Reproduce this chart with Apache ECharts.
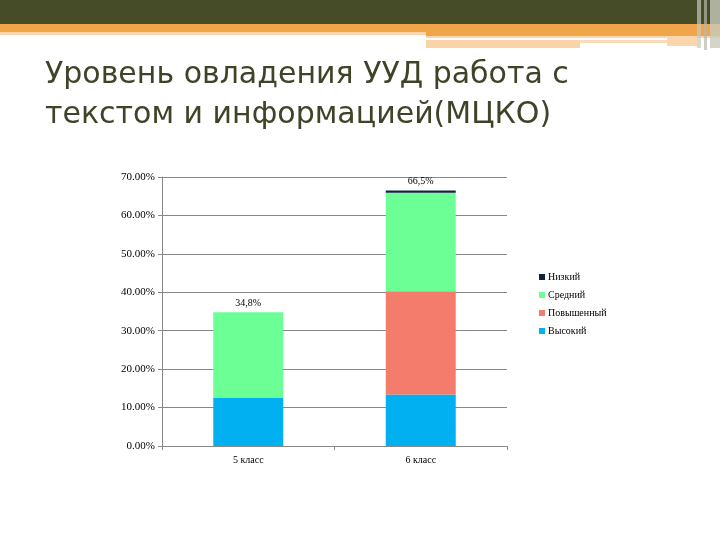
<!DOCTYPE html>
<html>
<head>
<meta charset="utf-8">
<script src="https://cdn.jsdelivr.net/npm/echarts@6/dist/echarts.min.js"></script>
<style>
  html, body { margin: 0; padding: 0; background: #fff; }
  #chart { width: 720px; height: 540px; }
</style>
</head>
<body>
<div id="chart"></div>
<script>
  var categories = ['5 класс', '6 класс'];
  var vysokiy = [12.6, 13.4];
  var povyshenny = [0, 26.9];
  var sredniy = [22.2, 25.6];
  var nizkiy = [0, 0.6];
  var totals = ['34,8%', '66,5%'];
  var yTicks = [0, 10, 20, 30, 40, 50, 60, 70];

  var serif = '"Liberation Serif", "DejaVu Serif", serif';
  var chart = echarts.init(document.getElementById('chart'));

  var option = {
    backgroundColor: '#fff',
    animation: false,
    title: {
      text: 'Уровень овладения УУД работа с\nтекстом и информацией(МЦКО)',
      left: 40,
      top: 50,
      textStyle: {
        fontFamily: '"DejaVu Sans", "Noto Sans", sans-serif',
        fontWeight: 'normal',
        fontSize: 30,
        lineHeight: 40,
        color: '#3f4428'
      }
    },
    graphic: [
      { type: 'rect', shape: { x: 0, y: 0, width: 720, height: 24 }, style: { fill: '#474c28' } },
      { type: 'rect', shape: { x: 0, y: 24, width: 720, height: 8 }, style: { fill: '#f0a54a' } },
      { type: 'rect', shape: { x: 0, y: 32, width: 426, height: 3 }, style: { fill: '#fad5ae' } },
      { type: 'rect', shape: { x: 426, y: 32, width: 294, height: 4 }, style: { fill: '#f0a54a' } },
      { type: 'rect', shape: { x: 426, y: 36, width: 294, height: 2 }, style: { fill: '#fad5ae' } },
      { type: 'rect', shape: { x: 426, y: 40, width: 154, height: 8 }, style: { fill: '#fad3a8' } },
      { type: 'rect', shape: { x: 580, y: 40, width: 87, height: 3 }, style: { fill: '#fbdcb9' } },
      { type: 'rect', shape: { x: 667, y: 36, width: 30, height: 10 }, style: { fill: '#fad5ae' } },
      { type: 'rect', shape: { x: 697, y: 0, width: 4, height: 48 }, style: { fill: '#c8c8b8', opacity: 0.7 } },
      { type: 'rect', shape: { x: 704, y: 0, width: 3, height: 50 }, style: { fill: '#b8b8a8', opacity: 0.7 } },
      { type: 'rect', shape: { x: 710, y: 0, width: 10, height: 48 }, style: { fill: '#c8cabc', opacity: 0.8 } }
    ],
    legend: {
      orient: 'vertical',
      left: 534,
      top: 267,
      itemWidth: 6,
      itemHeight: 6,
      itemGap: 8,
      icon: 'rect',
      data: ['Низкий', 'Средний', 'Повышенный', 'Высокий'],
      textStyle: { fontFamily: serif, fontSize: 10, color: '#000', padding: [0, 0, 0, -2] }
    },
    grid: { left: 162, right: 213, top: 177, bottom: 94 },
    xAxis: {
      type: 'category',
      data: categories,
      axisLine: { lineStyle: { color: '#888' } },
      axisTick: { show: true, length: 4, lineStyle: { color: '#888' } },
      axisLabel: { fontFamily: serif, fontSize: 10, color: '#000', margin: 9 }
    },
    yAxis: {
      type: 'value',
      min: 0,
      max: 70,
      interval: 10,
      axisLine: { show: true, lineStyle: { color: '#888' } },
      axisTick: { show: true, length: 4, lineStyle: { color: '#888' } },
      splitLine: { lineStyle: { color: '#888' } },
      axisLabel: {
        fontFamily: serif, fontSize: 11, color: '#000', margin: 7,
        formatter: function (v) { return yTicks.indexOf(v) >= 0 ? v.toFixed(2) + '%' : ''; }
      }
    },
    series: [
      { name: 'Высокий', type: 'bar', stack: 'a', barWidth: 70, data: vysokiy, itemStyle: { color: '#00b0f0' } },
      { name: 'Повышенный', type: 'bar', stack: 'a', data: povyshenny, itemStyle: { color: '#f47c6c' } },
      { name: 'Средний', type: 'bar', stack: 'a', data: sredniy, itemStyle: { color: '#6cff96' } },
      {
        name: 'Низкий', type: 'bar', stack: 'a', data: nizkiy, itemStyle: { color: '#10243e' },
        label: {
          show: true, position: 'top', distance: 4,
          fontFamily: serif, fontSize: 10, color: '#000',
          formatter: function (p) { return totals[p.dataIndex]; }
        }
      }
    ]
  };
  chart.setOption(option);
</script>
</body>
</html>
